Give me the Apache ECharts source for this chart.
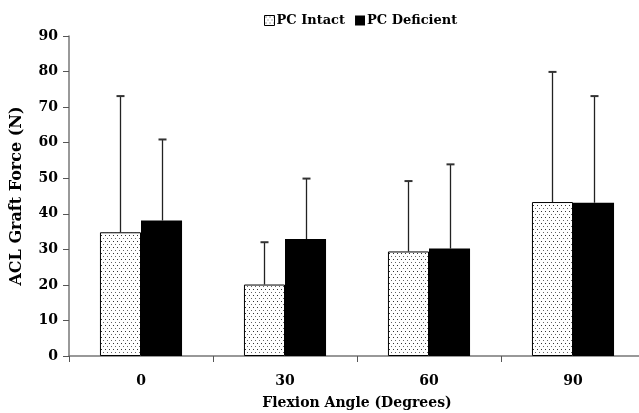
<!DOCTYPE html>
<html>
<head>
<meta charset="utf-8">
<script src="https://cdn.jsdelivr.net/npm/echarts@6/dist/echarts.min.js"></script>
<style>html,body{margin:0;padding:0;background:#fff;}#c{width:639px;height:413px;}</style>
</head>
<body>
<div id="c"></div>
<script>
var categories = ['0', '30', '60', '90'];
var seriesNames = ['PC Intact', 'PC Deficient'];
var intactMean = [34.8, 20.1, 29.4, 43.3];
var intactErrTop = [73.1, 32.0, 49.2, 79.9];
var deficientMean = [38.1, 32.9, 30.2, 43.1];
var deficientErrTop = [60.9, 49.9, 53.9, 73.1];
var yTicks = [0, 10, 20, 30, 40, 50, 60, 70, 80, 90];

var FONT = 'DejaVu Serif';
var GAP = 0.43;

var cv = document.createElement('canvas');
cv.width = 8; cv.height = 6;
var cx = cv.getContext('2d');
cx.fillStyle = '#fff'; cx.fillRect(0, 0, 8, 6);
cx.fillStyle = '#333';
cx.fillRect(1, 1, 1, 1);
cx.fillRect(5, 1, 1, 1);
cx.fillStyle = '#666';
cx.fillRect(3, 4, 1, 1);
cx.fillRect(7, 4, 1, 1);
var dotted = { image: cv, repeat: 'repeat' };

function errSeries(topArr, meanArr, side) {
  return {
    type: 'custom',
    name: 'err' + side,
    silent: true,
    z: 5,
    data: topArr.map(function (t, i) { return [i, meanArr[i], t]; }),
    renderItem: function (params, api) {
      var i = api.value(0);
      var catW = api.size([1, 0])[0];
      var bw = catW * (1 - GAP) / 2;
      var p0 = api.coord([i, api.value(1)]);
      var p1 = api.coord([i, api.value(2)]);
      var x = Math.round(p0[0] + side * bw / 2) + 0.5;
      return {
        type: 'group',
        children: [
          { type: 'line', shape: { x1: x, y1: p0[1], x2: x, y2: p1[1] }, style: { stroke: '#222', lineWidth: 1.3 } },
          { type: 'line', shape: { x1: x - 4, y1: p1[1], x2: x + 4, y2: p1[1] }, style: { stroke: '#333', lineWidth: 2 } }
        ]
      };
    }
  };
}

var chart = echarts.init(document.getElementById('c'), null, { renderer: 'canvas' });
chart.setOption({
  animation: false,
  backgroundColor: '#fff',
  legend: {
    data: [
      { name: seriesNames[0], itemStyle: { color: dotted, borderColor: '#000', borderWidth: 1 } },
      { name: seriesNames[1], itemStyle: { color: '#000' } }
    ],
    left: 259, top: 9,
    itemWidth: 10, itemHeight: 10, itemGap: 10,
    icon: 'rect',
    textStyle: { fontFamily: FONT, fontWeight: 'bold', fontSize: 13, color: '#000', padding: [0, 0, 0, -3] }
  },
  grid: { left: 69, top: 36, width: 576, height: 320, containLabel: false, outerBoundsMode: 'none' },
  xAxis: {
    type: 'category',
    data: categories,
    name: 'Flexion Angle (Degrees)',
    nameLocation: 'middle',
    nameGap: 40,
    nameTextStyle: { fontFamily: FONT, fontWeight: 'bold', fontSize: 14, color: '#000' },
    axisLine: { lineStyle: { color: '#777', width: 1.5 } },
    axisTick: { show: true, length: 6, lineStyle: { color: '#555' } },
    axisLabel: { fontFamily: FONT, fontWeight: 'bold', fontSize: 14, color: '#000', margin: 18 }
  },
  yAxis: {
    type: 'value',
    min: 0, max: 90, interval: 10,
    name: 'ACL Graft Force (N)',
    nameLocation: 'middle',
    nameGap: 44,
    nameTextStyle: { fontFamily: FONT, fontWeight: 'bold', fontSize: 16, color: '#000' },
    axisLine: { show: true, lineStyle: { color: '#777', width: 1.5 } },
    axisTick: { show: true, length: 6, lineStyle: { color: '#555' } },
    splitLine: { show: false },
    axisLabel: {
      fontFamily: FONT, fontWeight: 'bold', fontSize: 14, color: '#000', margin: 11,
      formatter: function (v) { return yTicks.indexOf(v) >= 0 ? String(v) : ''; }
    }
  },
  series: [
    {
      type: 'bar', name: seriesNames[0], data: intactMean,
      barGap: '0%', barCategoryGap: (GAP * 100) + '%',
      itemStyle: { color: dotted, borderColor: '#000', borderWidth: 1 }
    },
    {
      type: 'bar', name: seriesNames[1], data: deficientMean,
      itemStyle: { color: '#000' }
    },
    errSeries(intactErrTop, intactMean, -1),
    errSeries(deficientErrTop, deficientMean, 1)
  ]
});
</script>
</body>
</html>
